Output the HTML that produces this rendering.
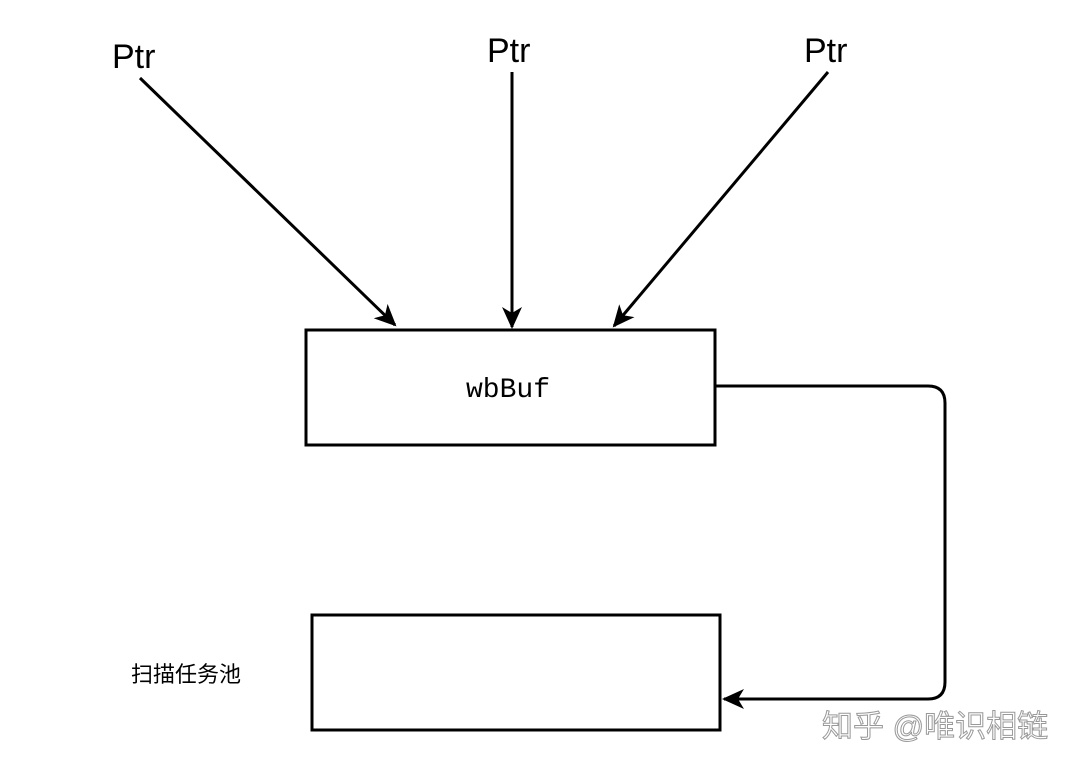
<!DOCTYPE html>
<html><head><meta charset="utf-8"><style>
html,body{margin:0;padding:0;background:#fff;}
</style></head><body>
<svg width="1080" height="769" viewBox="0 0 1080 769" xmlns="http://www.w3.org/2000/svg">
<defs>
<marker id="b" markerWidth="22" markerHeight="20" refX="20" refY="10" orient="auto" markerUnits="userSpaceOnUse">
<path d="M0,0 L22,10 L0,20 L6,10 Z" fill="#000"/>
</marker>
</defs>
<g font-family="Liberation Sans, sans-serif" font-size="34" fill="#000">
<text x="112" y="68">Ptr</text>
<text x="487" y="62">Ptr</text>
<text x="804" y="62">Ptr</text>
</g>
<g stroke="#000" stroke-width="3" fill="none">
<line x1="140" y1="78" x2="395" y2="325" marker-end="url(#b)"/>
<line x1="512" y1="72" x2="512" y2="327" marker-end="url(#b)"/>
<line x1="828" y1="72" x2="614" y2="326" marker-end="url(#b)"/>
<rect x="306" y="330" width="409" height="115"/>
<rect x="312" y="615" width="408" height="115"/>
<path d="M715,386 L928,386 Q945,386 945,403 L945,682 Q945,699 928,699 L724,699" marker-end="url(#b)"/>
</g>
<text x="508" y="397" font-family="Liberation Mono, monospace" font-size="28" text-anchor="middle" fill="#000">wbBuf</text>
<text x="131" y="682" font-family="Liberation Sans, Noto Sans CJK SC, sans-serif" font-size="22" fill="#000">扫描任务池</text>
<text x="822" y="737" font-family="Liberation Sans, Noto Sans CJK SC, sans-serif" font-size="31" fill="#fff" stroke="#999" stroke-width="1">知乎 @唯识相链</text>
</svg>
</body></html>
